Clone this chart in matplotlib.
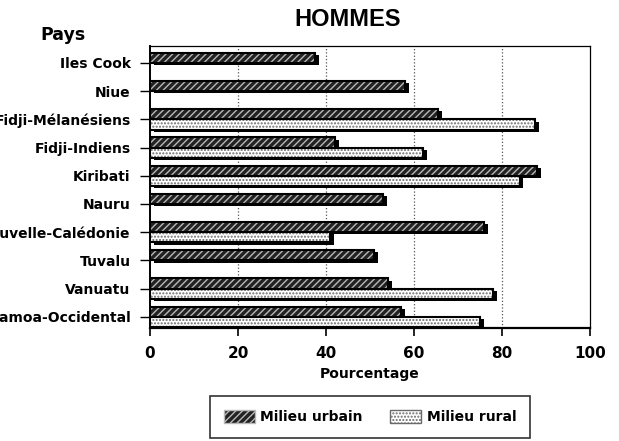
import numpy as np
import matplotlib
matplotlib.use("Agg")
from matplotlib import pyplot as plt
from matplotlib.patches import Patch

pays = ['Iles Cook', 'Niue', 'Fidji-Mélanésiens', 'Fidji-Indiens', 'Kiribati',
        'Nauru', 'Nouvelle-Calédonie', 'Tuvalu', 'Vanuatu', 'Samoa-Occidental']
urbain = [37.5, 58, 65.5, 42, 88, 53, 76, 51, 54, 57]
rural = [np.nan, np.nan, 87.5, 62, 84, np.nan, 41, np.nan, 78, 75]
ticks_x = [0, 20, 40, 60, 80, 100]

plt.rcParams['font.family'] = ['DejaVu Sans']
plt.rcParams['font.weight'] = 'bold'
plt.rcParams['hatch.linewidth'] = 1.0

fig = plt.figure(figsize=(6.19, 4.41), dpi=100)
ax = fig.add_axes([0.2423, 0.256, 0.7107, 0.6397])

y = np.arange(len(pays))
h = 0.36


def draw_bars(ax, pos, vals, face, hatch_col, hatch):
    # shadow, fill with hatch, then outline
    ax.barh(pos + 0.08, vals, height=h, left=0.9, color='black', zorder=2)
    ax.barh(pos, vals, height=h, color=face, edgecolor=hatch_col, hatch=hatch,
            linewidth=0, zorder=3)
    ax.barh(pos, vals, height=h, fill=False, edgecolor='black',
            linewidth=1.5, zorder=4)


draw_bars(ax, y - h / 2, urbain, '#222222', '#b8b8b8', '/////')
draw_bars(ax, y + h / 2, rural, 'white', '#6a6a6a', '.....')

ax.set_xlim(0, 100)
ax.set_ylim(len(pays) - 1 + 0.4, -0.6)
ax.set_xticks(ticks_x)
ax.set_yticks(y)
ax.set_yticklabels(pays, fontsize=10, fontweight='bold')
ax.tick_params(axis='y', length=7, width=1, pad=7)
ax.tick_params(axis='x', length=6, width=1.2, pad=7, labelsize=11)
for lab in ax.get_xticklabels():
    lab.set_fontweight('bold')

for v in ticks_x[1:-1]:
    ax.axvline(v, color='#555555', linestyle=':', linewidth=0.9, zorder=1)

for side in ['top', 'right']:
    ax.spines[side].set_linewidth(0.9)
ax.spines['left'].set_linewidth(1.4)
ax.spines['bottom'].set_linewidth(1.6)

ax.set_xlabel('Pourcentage', fontsize=10, fontweight='bold', labelpad=4)

fig.text(0.561, 0.955, 'HOMMES', fontsize=17, fontweight='bold',
         family='Liberation Sans', ha='center', va='center')
fig.text(0.065, 0.92, 'Pays', fontsize=12.5, fontweight='bold',
         ha='left', va='center')

handles = [
    Patch(facecolor='#222222', edgecolor='#b8b8b8', hatch='/////', label='Milieu urbain'),
    Patch(facecolor='white', edgecolor='#6a6a6a', hatch='.....', label='Milieu rural'),
]
leg = fig.legend(handles=handles, loc='center', bbox_to_anchor=(0.598, 0.055),
                 ncol=2, frameon=True, fancybox=False, edgecolor='black',
                 fontsize=10, handlelength=2.2, handleheight=1.1,
                 columnspacing=2.0, borderpad=1.0, handletextpad=0.4)
leg.get_frame().set_linewidth(1.2)
for t in leg.get_texts():
    t.set_fontweight('bold')

fig.savefig('out.png', dpi=100)
